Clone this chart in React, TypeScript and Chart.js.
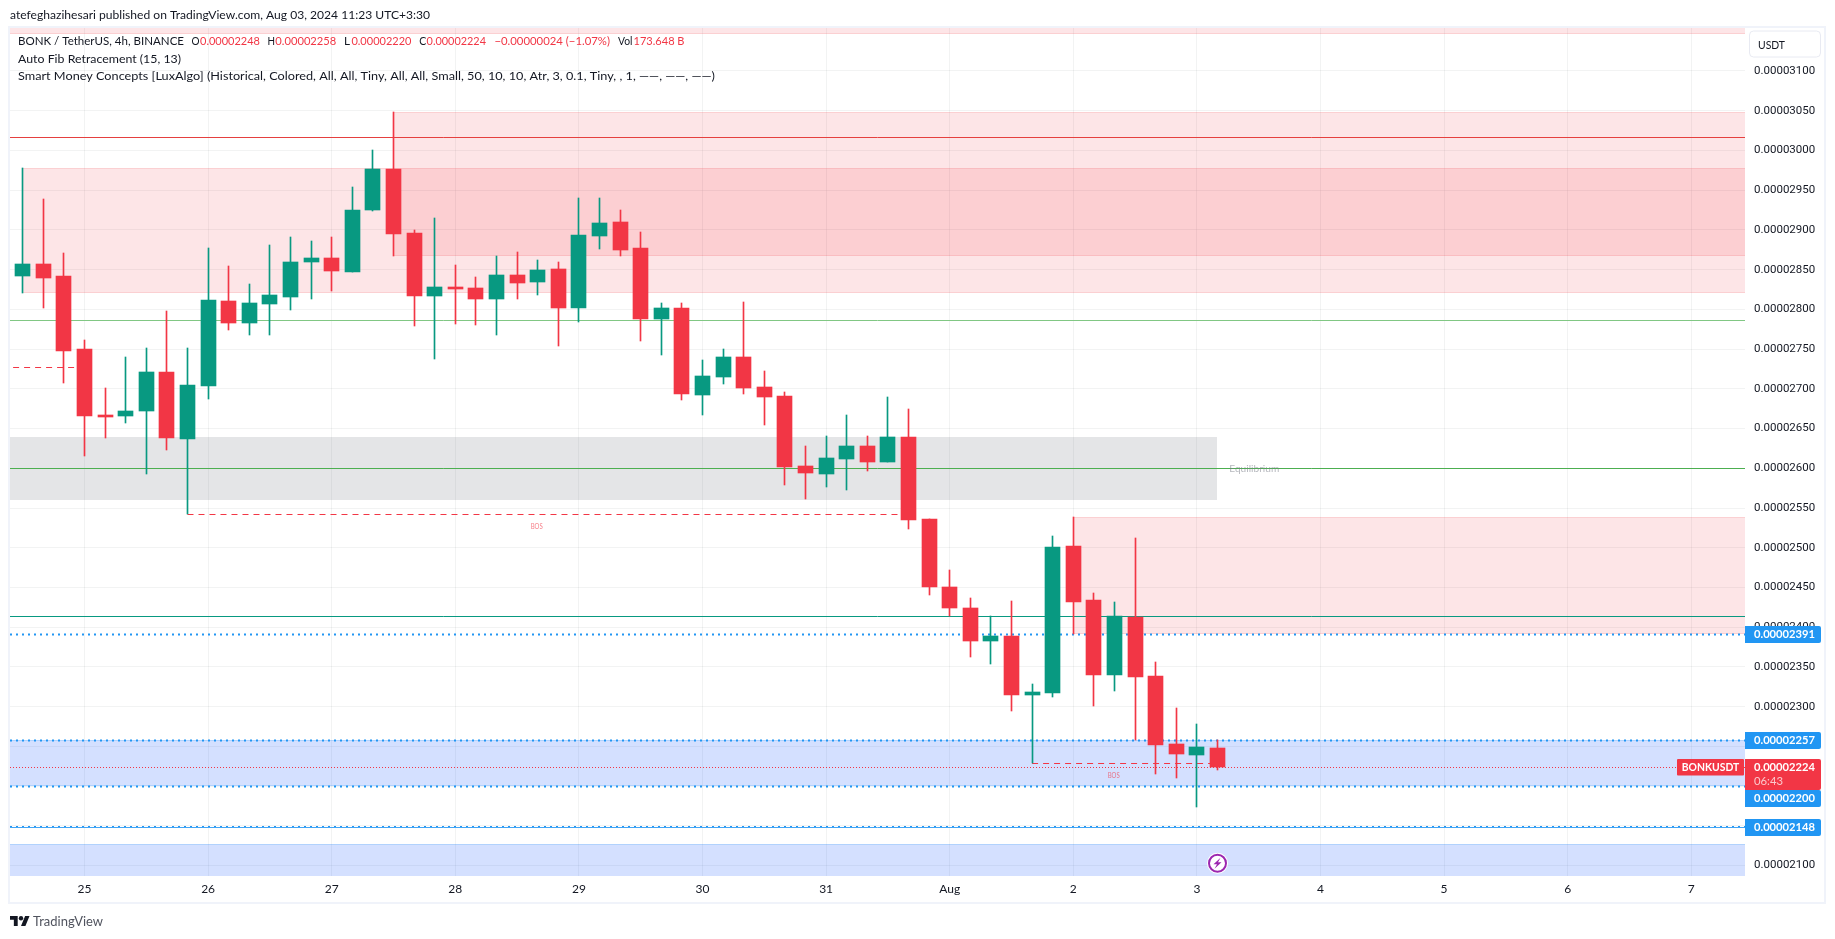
import React, { useEffect, useRef } from "react";
import { Chart, registerables } from "chart.js";

Chart.register(...registerables);

// Prices are in units of 0.00000001 USDT. One entry per 4h candle.
const candleOpen = [2842,2857,2842,2750,2667,2666,2672.5,2721,2637,2704,2810.5,2783,2807,2816,2860,2864.6,2847.5,2925.5,2976.7,2896,2817.2,2828,2826.9,2813.5,2843.3,2834.9,2850.8,2802,2892.8,2910,2877,2788,2801.8,2692,2714.9,2740,2702.3,2691,2603,2592.8,2611.7,2628,2608,2639.4,2536.2,2450.6,2424.2,2382.6,2388.9,2314.7,2317.2,2502.2,2434.3,2339.9,2412.9,2338.6,2253,2239.2,2248];
const candleClose = [2857,2839.5,2748,2666,2665,2672,2721,2638.5,2704.8,2811.8,2783,2808,2818,2859.6,2864.6,2848.7,2925,2976.7,2895.3,2817,2828,2826,2813.5,2843.3,2833.6,2849.5,2802,2893.6,2908.7,2874.7,2788,2801.8,2693.5,2716,2740,2701,2689.7,2601.6,2594,2613,2628,2608,2639.4,2535,2450.6,2424.2,2382.6,2388.9,2314.7,2318.5,2501,2431.7,2339.9,2413.7,2337.3,2251.8,2240.4,2249.2,2224];
const candleHigh = [2978,2939,2871,2761.4,2701,2740,2751.4,2798,2751.4,2877,2854.6,2832,2881,2891,2886,2891,2954,3000.6,3048.4,2900,2915,2855.8,2840.7,2867.2,2872,2862,2859.6,2940,2940,2925,2897.4,2808,2808,2736.3,2750,2809.3,2722.5,2696,2628,2640.7,2667,2640.7,2689.7,2674.6,2536.2,2472,2436.8,2413.7,2433,2328.5,2514.8,2538.7,2443,2431.7,2512.3,2356.2,2298.3,2278.2,2258];
const candleLow = [2821,2801.7,2707.7,2615.9,2638.5,2657.4,2593,2623.4,2542,2687.6,2774.4,2768,2768,2799.6,2813.5,2823.5,2847.5,2923.8,2867.2,2779.5,2738,2782,2780.7,2768,2813.5,2818.5,2754.3,2784.5,2876,2867,2760.2,2742.6,2686,2667.1,2706,2693.5,2654.5,2579,2561.4,2576.5,2572.7,2596.6,2608,2523.6,2440.5,2414.1,2362.5,2353.7,2294.5,2228.7,2312.2,2391.5,2300.8,2319.7,2258,2215.3,2210.2,2173.7,2220];

const priceTicks = [2100,2150,2200,2250,2300,2350,2400,2450,2500,2550,2600,2650,2700,2750,2800,2850,2900,2950,3000,3050,3100];
const dayTickCandles = [3,9,15,21,27,33,39,45,51,57,63,69,75,81];
const dayTickLabels = ["25","26","27","28","29","30","31","Aug","2","3","4","5","6","7"];

// Supply zones: first candle, top price, bottom price
const redZoneStart = [-1, 0, 18, 51];
const redZoneTop = [3200, 2978, 3048.4, 2538.7];
const redZoneBottom = [3146, 2821, 2867.2, 2391.5];
const greyZoneTop = 2639.4;
const greyZoneBottom = 2560.1;
const greyZoneEnd = 58;
const blueZoneTop = [2258, 2126.6];
const blueZoneBottom = [2200, 2000];

const fibRed = 3016.5;
const fibGreen = 2786;
const equilibrium = 2600;
const fibTeal = 2413.7;
const dottedLevels = [2391, 2258, 2200];
const lowLevel = 2148;
const lastPrice = 2224;
const bosOne = { from: 8, to: 43, price: 2542 };
const bosTwo = { from: 49, to: 57.65, price: 2228.7 };
const oldHigh = { from: -1, to: 3, price: 2727 };

const priceTagValues = [2391, 2257, 2224, 2200, 2148];

const UP = "#089981";
const DOWN = "#f23645";
const X_MIN = -0.6165;
const X_MAX = 83.607;
const Y_MIN = 2086.9;
const Y_MAX = 3154.1;
const FONT = "Lato";

const fmt = (v: number) => (v / 1e8).toFixed(8);

const levelDs = (from: number, to: number, price: number, color: string, width: number, dash: number[] = []) => ({
  type: "line" as const,
  data: [{ x: from, y: price }, { x: to, y: price }],
  borderColor: color,
  borderWidth: width,
  borderDash: dash,
  pointRadius: 0,
  fill: false,
  tension: 0,
  order: 10,
});

const snapPlugin = {
  id: "snap",
  afterDatasetsUpdate(chart: any) {
    chart.data.datasets.forEach((ds: any, i: number) => {
      const meta = chart.getDatasetMeta(i);
      if (meta.type === "bar") {
        meta.data.forEach((el: any) => {
          const a = Math.round(Math.min(el.y, el.base));
          let b = Math.round(Math.max(el.y, el.base));
          if (b === a) b = a + 1;
          el.x = Math.floor(el.x) + 0.5;
          el.y = a;
          el.base = b;
          el.height = b - a;
          el.width = ds.maxBarThickness;
        });
      } else {
        meta.data.forEach((el: any) => {
          el.y = Math.floor(el.y) + 0.5;
        });
      }
    });
  },
};

const zonesPlugin = {
  id: "zones",
  beforeDatasetsDraw(chart: any) {
    const { ctx, chartArea: a, scales } = chart;
    const xs = scales.x, ys = scales.y;
    const zone = (xFrom: number, xTo: number, top: number, bottom: number, fill: string, stroke?: string) => {
      const l = Math.max(a.left, Math.floor(xs.getPixelForValue(xFrom)));
      const r = Math.min(a.right, Math.round(xs.getPixelForValue(xTo)));
      const t = Math.max(a.top, Math.round(ys.getPixelForValue(top)));
      const b = Math.min(a.bottom, Math.round(ys.getPixelForValue(bottom)));
      ctx.fillStyle = fill;
      ctx.fillRect(l, t, r - l, b - t);
      if (stroke) {
        ctx.strokeStyle = stroke;
        ctx.lineWidth = 1;
        ctx.beginPath();
        if (ys.getPixelForValue(top) > a.top) { ctx.moveTo(l, t + 0.5); ctx.lineTo(r, t + 0.5); }
        if (ys.getPixelForValue(bottom) < a.bottom) { ctx.moveTo(l, b - 0.5); ctx.lineTo(r, b - 0.5); }
        ctx.stroke();
      }
    };
    ctx.save();
    redZoneStart.forEach((s, i) => zone(s, X_MAX, redZoneTop[i], redZoneBottom[i], "rgba(242,54,69,0.13)", "rgba(242,54,69,0.12)"));
    zone(X_MIN, greyZoneEnd, greyZoneTop, greyZoneBottom, "rgba(120,123,134,0.2)");
    blueZoneTop.forEach((t, i) => zone(X_MIN, X_MAX, t, blueZoneBottom[i], "rgba(41,98,255,0.2)", "rgba(33,150,243,0.2)"));
    ctx.restore();
  },
};

const overlayPlugin = {
  id: "overlay",
  afterDraw(chart: any) {
    const { ctx, scales } = chart;
    const xs = scales.x, ys = scales.y;
    ctx.save();
    ctx.textBaseline = "middle";
    ctx.textAlign = "left";

    // Frame
    ctx.strokeStyle = "#f0f3fa";
    ctx.lineWidth = 2;
    ctx.strokeRect(9, 27, 1816, 876);

    // Draws text squeezed or stretched to the width it has in the reference
    const text = (s: string, x: number, y: number, color: string, w?: number, font = `12px ${FONT}`) => {
      ctx.font = font;
      ctx.fillStyle = color;
      if (w === undefined) {
        ctx.fillText(s, x, y);
        return;
      }
      const sx = w / ctx.measureText(s).width;
      ctx.save();
      ctx.translate(x, y);
      ctx.scale(sx, 1);
      ctx.fillText(s, 0, 0);
      ctx.restore();
    };

    // Header and legend
    const ink = "#131722";
    text("atefeghazihesari published on TradingView.com, Aug 03, 2024 11:23 UTC+3:30", 10, 15, ink, 420);
    text("BONK / TetherUS, 4h, BINANCE", 18, 41, ink, 166);
    text("O", 191.5, 41, ink, 8);
    text("0.00002248", 200, 41, DOWN, 60);
    text("H", 267.6, 41, ink, 7.5);
    text("0.00002258", 275.3, 41, DOWN, 61);
    text("L", 344, 41, ink, 6);
    text("0.00002220", 351.4, 41, DOWN, 60);
    text("C", 419.3, 41, ink, 7);
    text("0.00002224", 426.6, 41, DOWN, 59.4);
    text("\u22120.00000024 (\u22121.07%)", 494.4, 41, DOWN, 115.6);
    text("Vol", 618, 41, ink, 14.5);
    text("173.648 B", 633.5, 41, DOWN, 51);
    text("Auto Fib Retracement (15, 13)", 18, 59, ink, 163);
    text("Smart Money Concepts [LuxAlgo] (Historical, Colored, All, All, Tiny, All, All, Small, 50, 10, 10, Atr, 3, 0.1, Tiny, , 1, \u2014\u2014, \u2014\u2014, \u2014\u2014)", 18, 76, ink, 697);

    // Unit button
    ctx.fillStyle = "#ffffff";
    ctx.strokeStyle = "#e8eaf2";
    ctx.lineWidth = 1;
    ctx.beginPath();
    ctx.roundRect(1749.5, 31, 71, 26, 4);
    ctx.fill();
    ctx.stroke();
    text("USDT", 1758, 45, ink, 27);

    // Small chart labels
    text("BOS", xs.getPixelForValue(24.95) - 6, ys.getPixelForValue(2527), "rgba(242,54,69,0.65)", 12, `7px ${FONT}`);
    text("BOS", xs.getPixelForValue(52.96) - 6, ys.getPixelForValue(2213.6), "rgba(242,54,69,0.65)", 12, `7px ${FONT}`);
    text("Equilibrium", xs.getPixelForValue(58.57), ys.getPixelForValue(2599), "rgba(120,123,134,0.55)", 50, `9px ${FONT}`);

    // Symbol label
    ctx.fillStyle = DOWN;
    const lastY = ys.getPixelForValue(lastPrice);
    ctx.beginPath();
    ctx.roundRect(1677, Math.round(lastY - 8), 67, 16.5, 1);
    ctx.fill();
    text("BONKUSDT", 1681.7, lastY, "#ffffff", 57.6, `bold 11.5px ${FONT}`);

    // Price tags, pushed down so they do not overlap
    let prevBottom = -Infinity;
    priceTagValues.forEach((v) => {
      const isLast = v === lastPrice;
      const py = ys.getPixelForValue(v);
      const h = isLast ? 31 : 17;
      const top = Math.max(Math.round(py - (isLast ? 8 : 8.5)), prevBottom);
      ctx.fillStyle = isLast ? DOWN : "#2196f3";
      ctx.beginPath();
      ctx.roundRect(1745, top, 76, h, [0, 2, 2, 0]);
      ctx.fill();
      text(fmt(v), 1754, top + 8.5, "#ffffff", 61, `bold 11.5px ${FONT}`);
      if (isLast) text("06:43", 1754, top + 22, "#fbc9cd", 29, `11.5px ${FONT}`);
      prevBottom = top + h;
    });

    // Lightning marker under the last candle
    const mx = Math.floor(xs.getPixelForValue(58)) + 0.5;
    const my = ys.getPixelForValue(2103);
    ctx.beginPath();
    ctx.arc(mx, my, 10.5, 0, Math.PI * 2);
    ctx.fillStyle = "#ffffff";
    ctx.fill();
    ctx.beginPath();
    ctx.arc(mx, my, 8.5, 0, Math.PI * 2);
    ctx.strokeStyle = "#9c27b0";
    ctx.lineWidth = 2;
    ctx.stroke();
    ctx.beginPath();
    ctx.moveTo(mx + 3, my - 5.5);
    ctx.lineTo(mx - 4, my + 1);
    ctx.lineTo(mx - 0.5, my + 1);
    ctx.lineTo(mx - 3, my + 5.5);
    ctx.lineTo(mx + 4, my - 1);
    ctx.lineTo(mx + 0.5, my - 1);
    ctx.closePath();
    ctx.fillStyle = "#9c27b0";
    ctx.fill();

    // Footer brand
    ctx.save();
    ctx.translate(10, 913.8);
    ctx.scale(0.55, 0.55);
    ctx.fillStyle = "#131722";
    ctx.fill(new Path2D("M14 22H7V11H0V4h14v18zM28 22h-8l7.5-18h8L28 22z"));
    ctx.beginPath();
    ctx.arc(20, 8, 4, 0, Math.PI * 2);
    ctx.fill();
    ctx.restore();
    text("TradingView", 33, 922, "#50535e", 70, `13.5px ${FONT}`);
    ctx.restore();
  },
};

export default function App() {
  const ref = useRef<HTMLCanvasElement>(null);
  useEffect(() => {
    if (!ref.current) return;
    const bodyData = candleOpen.map((o, i) => ({ x: i, y: [Math.min(o, candleClose[i]), Math.max(o, candleClose[i])] }));
    const wickData = candleHigh.map((h, i) => ({ x: i, y: [candleLow[i], h] }));
    const colors = candleOpen.map((o, i) => (candleClose[i] >= o ? UP : DOWN));
    const DOT = [2, 4];
    const DASH = [6, 5];
    const chart = new Chart(ref.current, {
      type: "bar",
      data: {
        datasets: [
          {
            data: bodyData,
            backgroundColor: colors,
            borderWidth: 0,
            borderSkipped: false,
            grouped: false,
            barPercentage: 1,
            categoryPercentage: 1,
            maxBarThickness: 15,
            order: 1,
          },
          {
            data: wickData,
            backgroundColor: colors,
            borderWidth: 0,
            borderSkipped: false,
            grouped: false,
            barPercentage: 1,
            categoryPercentage: 1,
            maxBarThickness: 1,
            order: 2,
          },
          levelDs(X_MIN, X_MAX, fibRed, "#e5403f", 1),
          levelDs(X_MIN, X_MAX, fibGreen, "#81c784", 1),
          levelDs(X_MIN, X_MAX, equilibrium, "#4caf50", 1),
          levelDs(X_MIN, X_MAX, fibTeal, UP, 1),
          ...dottedLevels.map((p) => levelDs(X_MIN, X_MAX, p, "#2196f3", 2, DOT)),
          levelDs(X_MIN, X_MAX, lowLevel, "#42a5f5", 1),
          levelDs(X_MIN, X_MAX, lowLevel + 1.3, "#2196f3", 1, DOT),
          levelDs(X_MIN, X_MAX, lastPrice, DOWN, 1, [1, 2]),
          levelDs(bosOne.from, bosOne.to, bosOne.price, DOWN, 1, DASH),
          levelDs(bosTwo.from, bosTwo.to, bosTwo.price, DOWN, 1, DASH),
          levelDs(oldHigh.from, oldHigh.to, oldHigh.price, DOWN, 1, DASH),
        ] as any,
      },
      options: {
        animation: false,
        responsive: false,
        layout: { autoPadding: false, padding: { left: 10, top: 28, right: 0, bottom: 36 } },
        plugins: { legend: { display: false }, tooltip: { enabled: false } },
        scales: {
          x: {
            type: "linear",
            min: X_MIN,
            max: X_MAX,
            offset: false,
            border: { display: false },
            grid: { offset: false, color: "rgba(42,46,57,0.06)", drawTicks: false },
            afterBuildTicks: (s: any) => {
              s.ticks = dayTickCandles.map((value) => ({ value }));
            },
            afterFit: (s: any) => {
              s.height = 27;
            },
            ticks: {
              autoSkip: false,
              maxRotation: 0,
              padding: 6,
              color: "#131722",
              font: { family: FONT, size: 12 },
              callback: (v: any) => dayTickLabels[dayTickCandles.indexOf(Number(v))] ?? "",
            },
          },
          y: {
            type: "linear",
            position: "right",
            min: Y_MIN,
            max: Y_MAX,
            border: { display: false },
            grid: { color: "rgba(42,46,57,0.06)", drawTicks: false },
            afterBuildTicks: (s: any) => {
              s.ticks = priceTicks.map((value) => ({ value }));
            },
            afterFit: (s: any) => {
              s.width = 90;
            },
            ticks: {
              padding: 9,
              autoSkip: false,
              color: "#131722",
              font: { family: "Roboto", size: 11.5 },
              callback: (v: any) => fmt(Number(v)),
            },
          },
        },
      } as any,
      plugins: [snapPlugin, zonesPlugin, overlayPlugin],
    });
    return () => chart.destroy();
  }, []);
  return (
    <div style={{ position: "absolute", left: 0, top: 0, width: 1835, height: 939, background: "#fff" }}>
      <canvas ref={ref} width={1835} height={939} style={{ display: "block" }} />
    </div>
  );
}
